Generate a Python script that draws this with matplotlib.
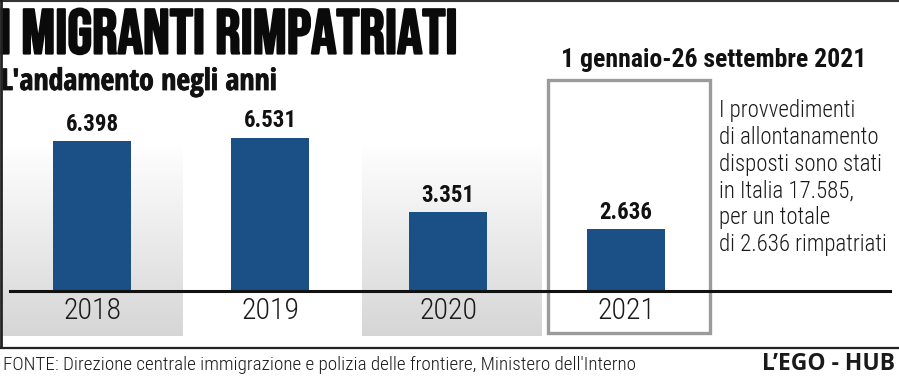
import matplotlib
matplotlib.use("Agg")
import matplotlib.pyplot as plt
import matplotlib.patheffects as pe
import numpy as np
from matplotlib.patches import Rectangle
from matplotlib.colors import LinearSegmentedColormap

# ---- data ----
years = ["2018", "2019", "2020", "2021"]
rimpatriati = [6398, 6531, 3351, 2636]
title = "I MIGRANTI RIMPATRIATI"
subtitle = "L'andamento negli anni"
period_label = "1 gennaio-26 settembre 2021"
note = ("I provvedimenti\ndi allontanamento\ndisposti sono stati\n"
        "in Italia 17.585,\nper un totale\ndi 2.636 rimpatriati")
source = "FONTE: Direzione centrale immigrazione e polizia delle frontiere, Ministero dell'Interno"
brand = "L\u2019EGO - HUB"

TITLE_F = ["Bebas Neue", "DejaVu Sans"]
BOLD_F = ["Open Sans Condensed", "DejaVu Sans"]
NUM_F = ["Roboto Condensed", "DejaVu Sans"]
LIGHT_F = ["Roboto Condensed", "DejaVu Sans"]

W, H = 899, 377
fig = plt.figure(figsize=(W / 100, H / 100), dpi=100)
fig.patch.set_facecolor("white")

bg = fig.add_axes([0, 0, 1, 1], zorder=0)
bg.set_xlim(0, W)
bg.set_ylim(H, 0)
bg.axis("off")

grad = np.linspace(0, 1, 256).reshape(-1, 1)
cmap = LinearSegmentedColormap.from_list("g", ["#ffffff", "#d6d6d6"])
for x0, x1 in [(3, 183), (362, 542)]:
    bg.imshow(grad, cmap=cmap, aspect="auto", extent=[x0, x1, 336, 143],
              interpolation="bicubic", zorder=0)

bg.add_patch(Rectangle((548, 80), 162, 253, fill=False, edgecolor="#9b9b9b",
                       linewidth=2.4, zorder=3))
bg.plot([0, W], [1, 1], color="#333333", lw=1.5, zorder=4)
bg.plot([1, 1], [0, 347], color="#222222", lw=2, zorder=4)
bg.plot([0, W], [347.5, 347.5], color="#222222", lw=1.6, zorder=4)

bg.text(-1, 53.5, title, fontsize=45.5, family=TITLE_F,
        ha="left", va="baseline", color="#0a0a0a",
        path_effects=[pe.withStroke(linewidth=1.6, foreground="#0a0a0a")])
bg.text(1, 90, subtitle, fontsize=21.5, fontweight=700, family=BOLD_F,
        ha="left", va="baseline", color="#111111",
        path_effects=[pe.withStroke(linewidth=0.6, foreground="#111111")])
bg.text(714, 67, period_label, fontsize=18.5, fontweight=700, family=NUM_F,
        ha="center", va="baseline", color="#111111")
bg.text(719, 99, note, fontsize=16.5, fontweight=300, family=LIGHT_F, ha="left",
        va="top", color="#1a1a1a", linespacing=1.21)
bg.text(3, 370, source, fontsize=13.8, fontweight=300, family=LIGHT_F, ha="left",
        va="baseline", color="#1a1a1a")
bg.text(895, 370, brand, fontsize=16.5, fontweight=700, family=["Open Sans", "DejaVu Sans"],
        ha="right", va="baseline", color="#1a1a1a")

# bar axes
base_px = 291
ax_h_px = 200
step_px = 178
first_px = 92
left_px, right_px = 10, 890
ax = fig.add_axes([left_px / W, (H - base_px) / H, (right_px - left_px) / W, ax_h_px / H],
                  zorder=2)
ax.patch.set_alpha(0)
x = np.arange(len(years))
ax.bar(x, rimpatriati, width=78 / step_px, color="#1a5085", zorder=2)
ax.set_xlim(-(first_px - left_px) / step_px, (right_px - first_px) / step_px)
ax.set_ylim(0, max(rimpatriati) * ax_h_px / 153)
for s in ["top", "right", "left"]:
    ax.spines[s].set_visible(False)
ax.spines["bottom"].set_linewidth(2.2)
ax.spines["bottom"].set_color("#111111")
ax.set_yticks([])
ax.set_xticks(x)
ax.set_xticklabels(years, family=LIGHT_F, fontweight=300, fontsize=21.5, color="#1a1a1a")
ax.tick_params(axis="x", length=0, pad=4)
for xi, v in zip(x, rimpatriati):
    ax.annotate(f"{v:,}".replace(",", "."), (xi, v), xytext=(0, 4),
                textcoords="offset points", ha="center", va="bottom",
                fontsize=16.5, fontweight=700, family=NUM_F, color="#111111")

fig.savefig("out.png", dpi=100)
